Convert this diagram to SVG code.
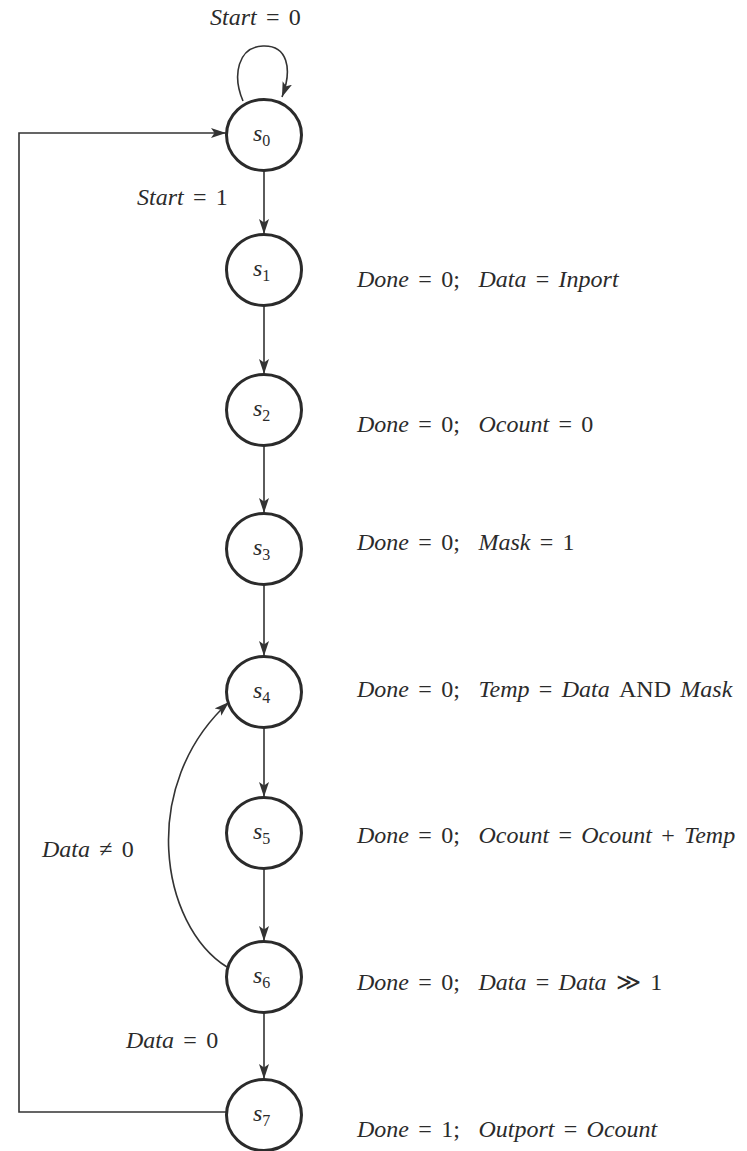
<svg xmlns="http://www.w3.org/2000/svg" width="747" height="1151" viewBox="0 0 747 1151">
  <style>
    .node ellipse { fill: #ffffff; stroke: #2b2b2b; stroke-width: 3; }
    .edge { fill: none; stroke: #333333; stroke-width: 1.6; }
    text { font-family: "Liberation Serif", "Times New Roman", serif; fill: #2b2b2b; }
    .lbl { font-size: 24px; font-style: italic; word-spacing: 3.3px; white-space: pre; }
    .up { font-style: normal; }
    .st { font-size: 24px; font-style: italic; }
    .sub { font-size: 16px; font-style: normal; }
  </style>
  <defs>
    <marker id="arrow" markerUnits="userSpaceOnUse" markerWidth="16" markerHeight="11" refX="15" refY="5.5" orient="auto">
      <path d="M0,0.5 L15,5.5 L0,10.5 L3.5,5.5 z" fill="#333333"/>
    </marker>
  </defs>
  <rect width="747" height="1151" fill="#ffffff"/>

  <!-- connectors -->
  <g id="edges">
    <!-- self loop on s0 -->
    <path class="edge" d="M243,101 C232,75 238,47 263,46 C287,45 293,68 282,97" marker-end="url(#arrow)"/>
    <!-- straight chain -->
    <line class="edge" x1="264" y1="170" x2="264" y2="234" marker-end="url(#arrow)"/>
    <line class="edge" x1="264" y1="306" x2="264" y2="374" marker-end="url(#arrow)"/>
    <line class="edge" x1="264" y1="446" x2="264" y2="513" marker-end="url(#arrow)"/>
    <line class="edge" x1="264" y1="585" x2="264" y2="656" marker-end="url(#arrow)"/>
    <line class="edge" x1="264" y1="728" x2="264" y2="797" marker-end="url(#arrow)"/>
    <line class="edge" x1="264" y1="869" x2="264" y2="941" marker-end="url(#arrow)"/>
    <line class="edge" x1="264" y1="1013" x2="264" y2="1079" marker-end="url(#arrow)"/>
    <!-- s6 back to s4 -->
    <path class="edge" d="M227,967 C160,925 138,785 229,702" marker-end="url(#arrow)"/>
    <!-- s7 back to s0 -->
    <path class="edge" d="M226,1112 L19,1112 L19,133 L226,133" marker-end="url(#arrow)"/>
  </g>

  <!-- edge labels -->
  <g id="edge-labels">
    <text class="lbl" x="210" y="25">Start <tspan class="up">= 0</tspan></text>
    <text class="lbl" x="137" y="205">Start <tspan class="up">= 1</tspan></text>
    <text class="lbl" x="42" y="857">Data <tspan class="up">≠ 0</tspan></text>
    <text class="lbl" x="126" y="1048">Data <tspan class="up">= 0</tspan></text>
  </g>

  <!-- states -->
  <g id="s0" class="node"><ellipse cx="264" cy="135" rx="37.5" ry="35.5"/><text x="253" y="141"><tspan class="st">s</tspan><tspan class="sub" dy="5">0</tspan></text></g>
  <g id="s1" class="node"><ellipse cx="264" cy="270" rx="37.5" ry="35.5"/><text x="253" y="276"><tspan class="st">s</tspan><tspan class="sub" dy="5">1</tspan></text></g>
  <g id="s2" class="node"><ellipse cx="264" cy="410" rx="37.5" ry="35.5"/><text x="253" y="416"><tspan class="st">s</tspan><tspan class="sub" dy="5">2</tspan></text></g>
  <g id="s3" class="node"><ellipse cx="264" cy="549" rx="37.5" ry="35.5"/><text x="253" y="555"><tspan class="st">s</tspan><tspan class="sub" dy="5">3</tspan></text></g>
  <g id="s4" class="node"><ellipse cx="264" cy="692" rx="37.5" ry="35.5"/><text x="253" y="698"><tspan class="st">s</tspan><tspan class="sub" dy="5">4</tspan></text></g>
  <g id="s5" class="node"><ellipse cx="264" cy="833" rx="37.5" ry="35.5"/><text x="253" y="839"><tspan class="st">s</tspan><tspan class="sub" dy="5">5</tspan></text></g>
  <g id="s6" class="node"><ellipse cx="264" cy="977" rx="37.5" ry="35.5"/><text x="253" y="983"><tspan class="st">s</tspan><tspan class="sub" dy="5">6</tspan></text></g>
  <g id="s7" class="node"><ellipse cx="264" cy="1115" rx="37.5" ry="35.5"/><text x="253" y="1121"><tspan class="st">s</tspan><tspan class="sub" dy="5">7</tspan></text></g>

  <!-- state actions -->
  <g id="actions">
    <text class="lbl" x="357" y="287">Done <tspan class="up">= 0;</tspan>  Data <tspan class="up">=</tspan> Inport</text>
    <text class="lbl" x="357" y="432">Done <tspan class="up">= 0;</tspan>  Ocount <tspan class="up">= 0</tspan></text>
    <text class="lbl" x="357" y="550">Done <tspan class="up">= 0;</tspan>  Mask <tspan class="up">= 1</tspan></text>
    <text class="lbl" x="357" y="697">Done <tspan class="up">= 0;</tspan>  Temp <tspan class="up">=</tspan> Data <tspan class="up">AND</tspan> Mask</text>
    <text class="lbl" x="357" y="843">Done <tspan class="up">= 0;</tspan>  Ocount <tspan class="up">=</tspan> Ocount <tspan class="up">+</tspan> Temp</text>
    <text class="lbl" x="357" y="990">Done <tspan class="up">= 0;</tspan>  Data <tspan class="up">=</tspan> Data <tspan class="up">≫ 1</tspan></text>
    <text class="lbl" x="357" y="1137">Done <tspan class="up">= 1;</tspan>  Outport <tspan class="up">=</tspan> Ocount</text>
  </g>
</svg>
